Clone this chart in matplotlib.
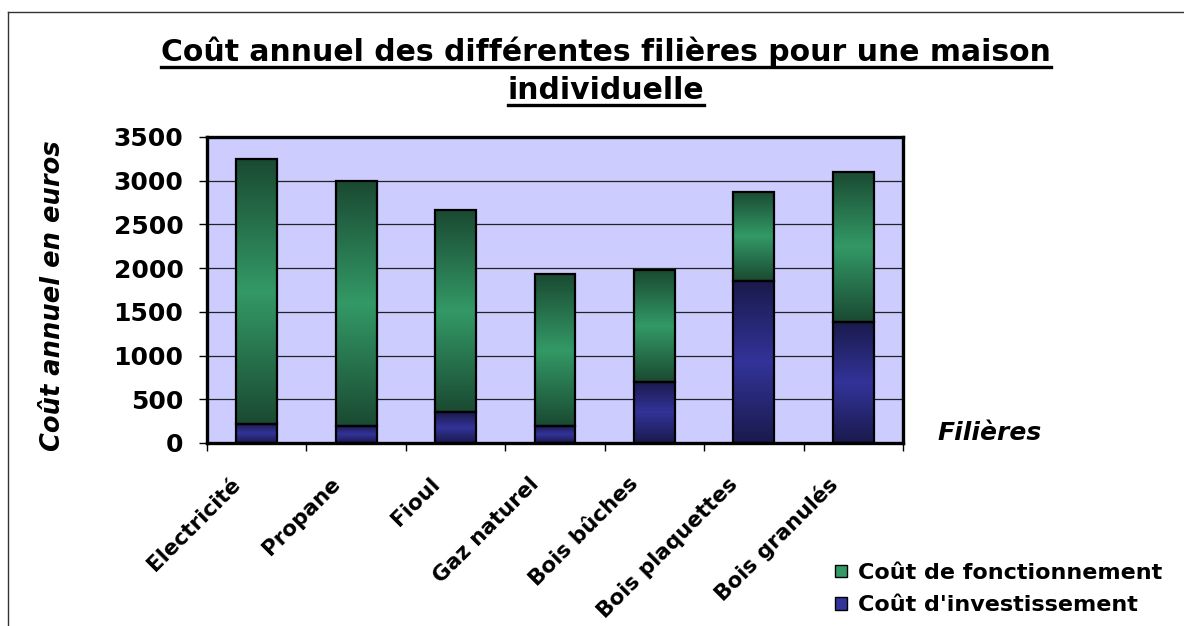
import numpy as np
import matplotlib
matplotlib.use('Agg')
import matplotlib.pyplot as plt
from matplotlib.colors import LinearSegmentedColormap
from matplotlib.patches import Patch
from matplotlib.lines import Line2D
from matplotlib.transforms import ScaledTranslation

# Données
filieres = ['Electricité', 'Propane', 'Fioul', 'Gaz naturel', 'Bois bûches',
            'Bois plaquettes', 'Bois granulés']
cout_investissement = [220, 200, 350, 200, 700, 1850, 1380]
cout_fonctionnement = [3030, 2800, 2310, 1730, 1275, 1020, 1720]
y_ticks = [0, 500, 1000, 1500, 2000, 2500, 3000, 3500]

titre_1 = 'Coût annuel des différentes filières pour une maison'
titre_2 = 'individuelle'

vert = '#339966'
vert_fonce = '#1a4a32'
bleu = '#333399'
bleu_fonce = '#1a1a4d'
fond = '#ccccff'

plt.rcParams['font.family'] = 'DejaVu Sans'
plt.rcParams['font.weight'] = 'bold'

fig = plt.figure(figsize=(11.84, 6.26), dpi=100)
W, H = 1184, 626
ax = fig.add_axes([207 / W, 1 - 443 / H, 696 / W, 306 / H])
ax.set_facecolor(fond)

x = np.arange(len(filieres))
largeur = 0.41
inv = np.array(cout_investissement)
fon = np.array(cout_fonctionnement)

# dégradés verticaux (foncé - clair - foncé)
cmap_vert = LinearSegmentedColormap.from_list('v', [vert_fonce, vert, vert_fonce])
cmap_bleu = LinearSegmentedColormap.from_list('b', [bleu_fonce, bleu, bleu_fonce])
grad = np.linspace(0, 1, 256).reshape(-1, 1)
for xi, b, f in zip(x, inv, fon):
    ax.imshow(grad, extent=[xi - largeur / 2, xi + largeur / 2, 0, b], aspect='auto',
              cmap=cmap_bleu, interpolation='bilinear', zorder=2)
    ax.imshow(grad, extent=[xi - largeur / 2, xi + largeur / 2, b, b + f], aspect='auto',
              cmap=cmap_vert, interpolation='bilinear', zorder=2)

ax.bar(x, inv, largeur, facecolor='none', edgecolor='black', linewidth=1.6, zorder=3)
ax.bar(x, fon, largeur, bottom=inv, facecolor='none', edgecolor='black', linewidth=1.6, zorder=3)

ax.set_xlim(-0.5, len(filieres) - 0.5)
ax.set_ylim(0, 3500)
ax.set_yticks(y_ticks)
ax.tick_params(axis='y', labelsize=18, length=6, width=1, pad=11)
ax.yaxis.grid(True, color='#222222', linewidth=0.9)
ax.set_axisbelow(True)

# graduations entre les catégories, étiquettes au centre
ax.set_xticks(x)
ax.set_xticklabels(filieres, rotation=45, ha='right', va='center',
                   rotation_mode='anchor', fontsize=15.5)
ax.set_xticks(np.arange(len(filieres) + 1) - 0.5, minor=True)
ax.tick_params(axis='x', which='major', length=0)
ax.tick_params(axis='x', which='minor', length=6, width=1)
decalage = ScaledTranslation(-19 / 100, -33 / 100, fig.dpi_scale_trans)
for lab in ax.get_xticklabels():
    lab.set_transform(lab.get_transform() + decalage)

for s in ax.spines.values():
    s.set_linewidth(2.4)
    s.set_color('black')

ax.set_ylabel('Coût annuel en euros', fontsize=18.5, style='italic', fontweight='bold')
ax.yaxis.set_label_coords(-0.203, 0.48)
ax.set_xlabel('Filières', fontsize=18, style='italic', fontweight='bold')
ax.xaxis.set_label_coords(1.125, 0.033)
ax.xaxis.label.set_va('center')

# légende
handles = [Patch(facecolor=vert, edgecolor='black', label='Coût de fonctionnement'),
           Patch(facecolor=bleu, edgecolor='black', label="Coût d'investissement")]
fig.legend(handles=handles, loc='center left', bbox_to_anchor=(824 / W, 1 - 589 / H),
           frameon=False, fontsize=16, handlelength=0.52, handleheight=0.52,
           handletextpad=0.5, labelspacing=0.55, borderpad=0)

# titre souligné
t1 = fig.text(606 / W, 1 - 61 / H, titre_1, ha='center', va='baseline', fontsize=21.5)
t2 = fig.text(606 / W, 1 - 99 / H, titre_2, ha='center', va='baseline', fontsize=21.5)
fig.canvas.draw()
for t, yb in [(t1, 67), (t2, 105)]:
    bb = t.get_window_extent()
    fig.add_artist(Line2D([bb.x0 / W, bb.x1 / W], [1 - yb / H, 1 - yb / H],
                          color='black', linewidth=2.4, transform=fig.transFigure))

# cadre du graphique
fig.add_artist(Line2D([8 / W, 1.0], [1 - 12 / H, 1 - 12 / H], color='#333333', linewidth=1))
fig.add_artist(Line2D([8 / W, 8 / W], [1 - 12 / H, 0.0], color='#333333', linewidth=1))

fig.savefig('out.png', dpi=100)
